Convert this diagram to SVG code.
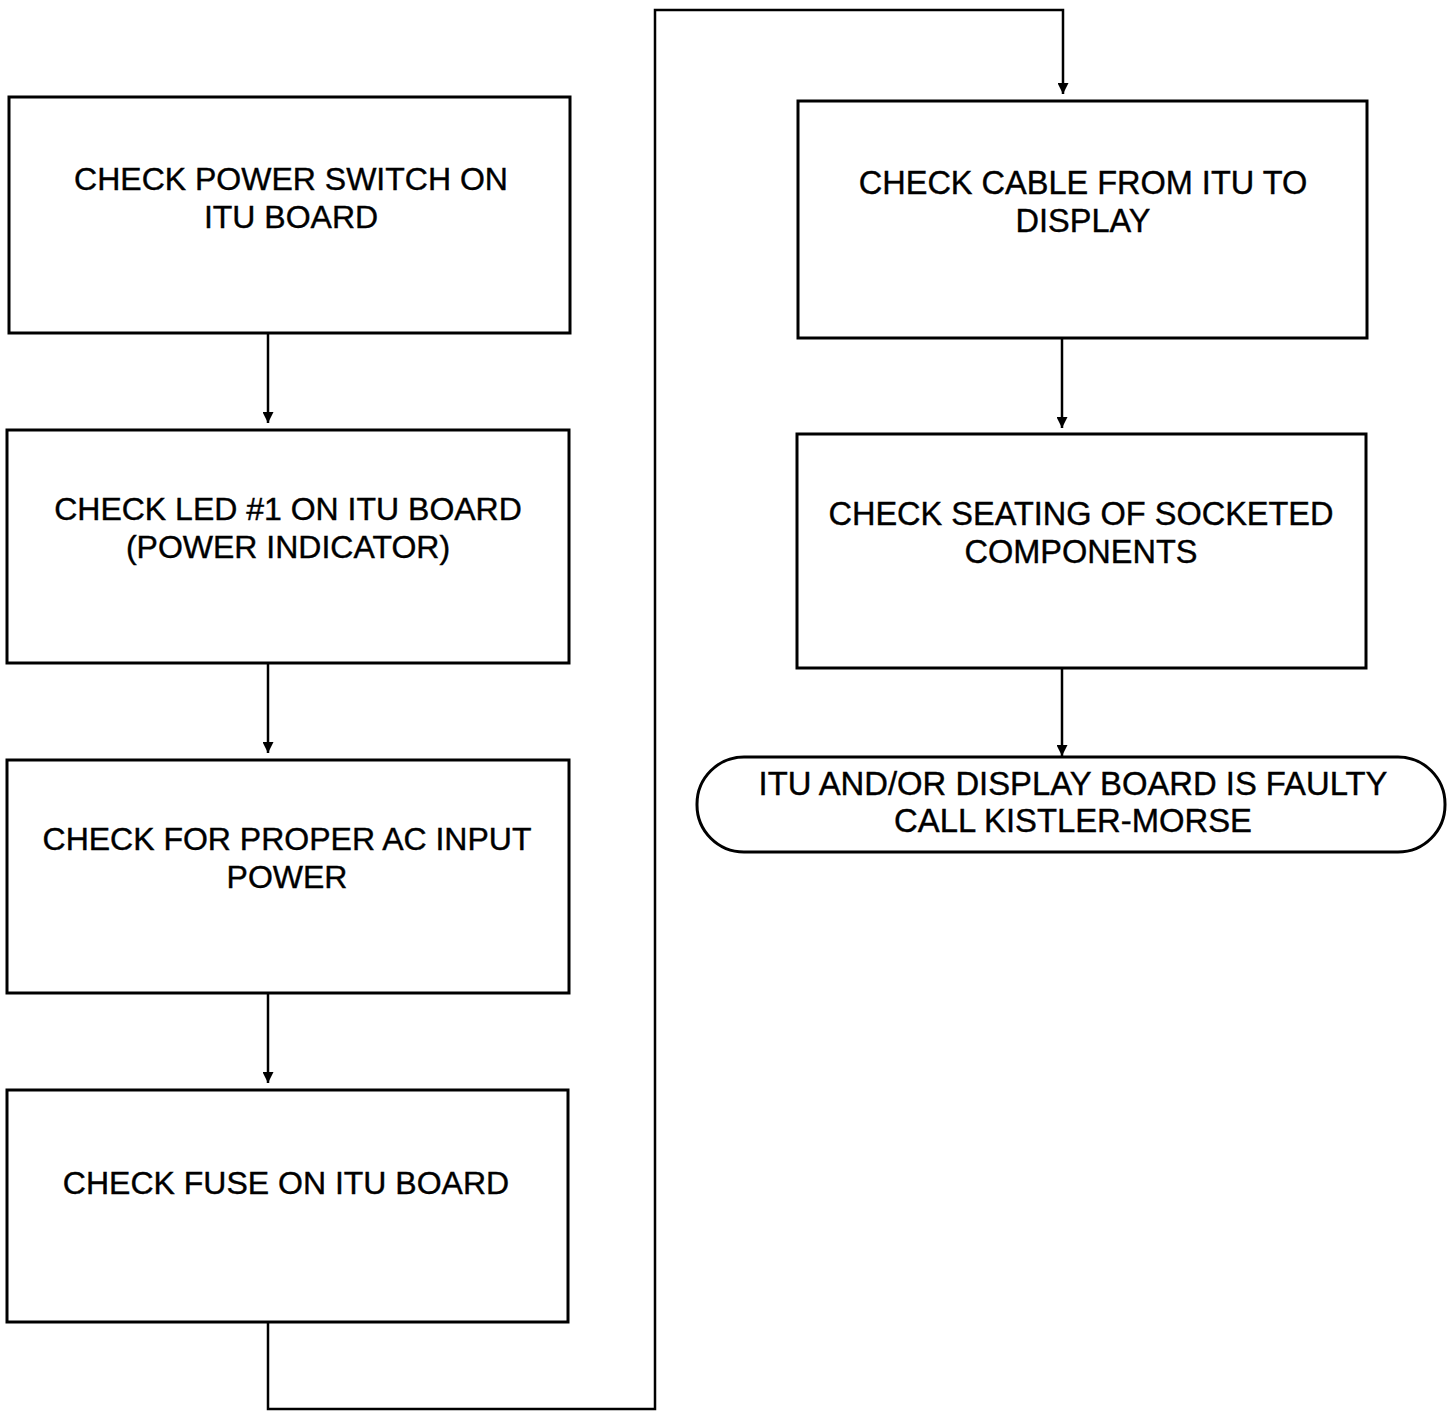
<svg xmlns="http://www.w3.org/2000/svg" width="1453" height="1412" viewBox="0 0 1453 1412">
<style>
.box{fill:#fff;stroke:#000;stroke-width:3}
.t{font-family:"Liberation Sans",Arial,sans-serif;font-size:32px;fill:#000;text-anchor:middle;stroke:#000;stroke-width:0.4}
.r{font-size:32.5px}
.f{font-size:32.8px}
.c{fill:none;stroke:#000;stroke-width:2.5}
</style>
<defs>
<marker id="ah" viewBox="0 0 10 10" refX="10" refY="5" markerWidth="12" markerHeight="11" markerUnits="userSpaceOnUse" orient="auto">
<path d="M0,0 L10,5 L0,10 Z" fill="#000"/>
</marker>
</defs>
<rect width="1453" height="1412" fill="#fff"/>
<g id="connectors">
<line class="c" x1="268" y1="333" x2="268" y2="423" marker-end="url(#ah)"/>
<line class="c" x1="268" y1="663" x2="268" y2="753" marker-end="url(#ah)"/>
<line class="c" x1="268" y1="993" x2="268" y2="1083" marker-end="url(#ah)"/>
<polyline class="c" points="268,1322 268,1409 655,1409 655,10 1063,10 1063,94" marker-end="url(#ah)"/>
<line class="c" x1="1062" y1="338" x2="1062" y2="428" marker-end="url(#ah)"/>
<line class="c" x1="1062" y1="668" x2="1062" y2="756" marker-end="url(#ah)"/>
</g>
<g id="n1">
<rect class="box" x="9" y="97" width="561" height="236"/>
<text class="t" x="291" y="190">CHECK POWER SWITCH ON</text>
<text class="t" x="291" y="228">ITU BOARD</text>
</g>
<g id="n2">
<rect class="box" x="7" y="430" width="562" height="233"/>
<text class="t" x="288" y="520">CHECK LED #1 ON ITU BOARD</text>
<text class="t" x="288" y="558">(POWER INDICATOR)</text>
</g>
<g id="n3">
<rect class="box" x="7" y="760" width="562" height="233"/>
<text class="t" x="287" y="850">CHECK FOR PROPER AC INPUT</text>
<text class="t" x="287" y="888">POWER</text>
</g>
<g id="n4">
<rect class="box" x="7" y="1090" width="561" height="232"/>
<text class="t" x="286" y="1194">CHECK FUSE ON ITU BOARD</text>
</g>
<g id="n5">
<rect class="box" x="798" y="101" width="569" height="237"/>
<text class="t r" x="1083" y="194">CHECK CABLE FROM ITU TO</text>
<text class="t r" x="1083" y="232">DISPLAY</text>
</g>
<g id="n6">
<rect class="box" x="797" y="434" width="569" height="234"/>
<text class="t r" x="1081" y="525">CHECK SEATING OF SOCKETED</text>
<text class="t r" x="1081" y="563">COMPONENTS</text>
</g>
<g id="n7">
<rect class="box" x="697" y="757" width="748" height="95" rx="47" ry="47"/>
<text class="t f" x="1073" y="795">ITU AND/OR DISPLAY BOARD IS FAULTY</text>
<text class="t f" x="1073" y="832">CALL KISTLER-MORSE</text>
</g>
</svg>
